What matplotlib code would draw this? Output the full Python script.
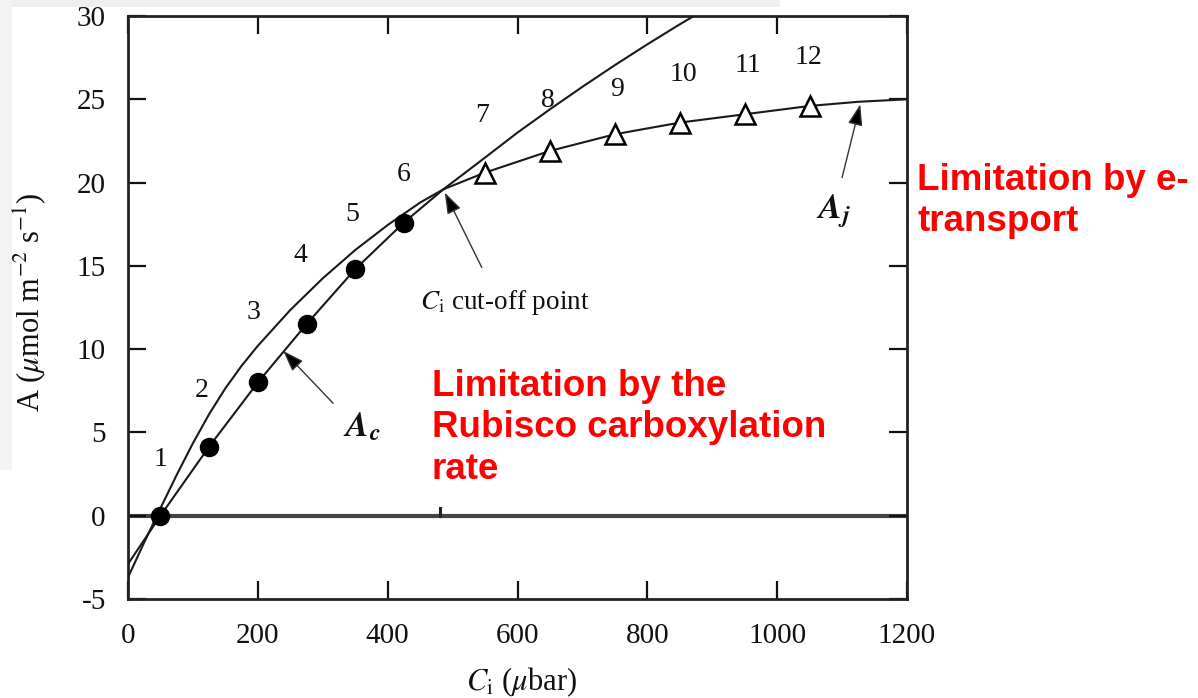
import matplotlib
matplotlib.use("Agg")
import matplotlib.pyplot as plt
from matplotlib.patches import Rectangle

plt.rcParams["font.family"] = ["Liberation Serif", "DejaVu Serif"]
plt.rcParams["mathtext.fontset"] = "stix"
plt.rcParams["axes.unicode_minus"] = False

# Measured points (Ci in µbar, A in µmol m-2 s-1)
ci_dots = [50, 125, 200, 275, 350, 425]
a_dots = [0.0, 4.15, 8.0, 11.5, 14.8, 17.6]
ci_tri = [550, 650, 750, 850, 950, 1050]
a_tri = [20.6, 21.9, 22.9, 23.6, 24.1, 24.6]

# Rubisco-limited curve (Ac)
ci_ac = [0, 50, 125, 200, 275, 350, 425, 486, 550, 600, 650, 700, 750, 800, 850, 900]
a_ac = [-2.9, 0.0, 4.15, 8.0, 11.5, 14.8, 17.6, 19.6, 21.5, 23.0, 24.4, 25.75, 27.05, 28.3, 29.5, 30.65]

# Electron-transport-limited curve (Aj)
ci_aj = [0, 25, 50, 75, 100, 125, 150, 175, 200, 250, 300, 350, 400, 450, 486,
         550, 650, 750, 850, 950, 1050, 1125, 1200]
a_aj = [-3.7, -1.6, 0.45, 2.45, 4.35, 6.1, 7.65, 9.0, 10.2, 12.35, 14.25, 15.95, 17.45, 18.8, 19.6,
        20.6, 21.9, 22.9, 23.6, 24.1, 24.6, 24.85, 25.0]

# Ci cut-off point (intersection of Ac and Aj)
ci_cut = 486
a_cut = 19.6

# Point numbers
point_labels = [str(i) for i in range(1, 13)]
label_ci = [50, 114, 194, 265, 345, 424, 545, 647, 753, 855, 955, 1048]
label_a = [3.4, 7.5, 12.2, 15.6, 18.1, 20.5, 24.0, 24.9, 25.6, 26.5, 27.0, 27.5]

x_ticks = [0, 200, 400, 600, 800, 1000, 1200]
y_ticks = [-5, 0, 5, 10, 15, 20, 25, 30]

W, H = 1198, 698
fig = plt.figure(figsize=(W / 100, H / 100), dpi=100)
fig.patch.set_facecolor("white")

# light slide background accents
fig.add_artist(Rectangle((0, 1 - 7 / H), 780 / W, 7 / H, transform=fig.transFigure,
                         facecolor="#efefef", edgecolor="none", zorder=-5))
fig.add_artist(Rectangle((0, 1 - 470 / H), 12 / W, 470 / H, transform=fig.transFigure,
                         facecolor="#f3f3f3", edgecolor="none", zorder=-5))

ax = fig.add_axes([128 / W, (H - 599) / H, (907 - 128) / W, (599 - 16) / H])
ax.set_xlim(0, 1200)
ax.set_ylim(-5, 30)
ax.set_xticks(x_ticks)
ax.set_yticks(y_ticks)
ax.tick_params(direction="in", length=13, width=1.6, top=True, right=True,
               labelsize=21, colors="#111111")
ax.tick_params(axis="x", pad=17)
ax.tick_params(axis="y", pad=16)
for s in ax.spines.values():
    s.set_linewidth(2.0)
    s.set_color("#222222")

# zero line
ax.axhline(0, color="#444444", lw=3.0, zorder=1)
# small mark at the cut-off Ci on the zero line
ax.plot([ci_cut - 5, ci_cut - 5], [0, 0.45], color="#222222", lw=2.2, zorder=2)

# curves
ax.plot(ci_ac, a_ac, color="#1a1a1a", lw=1.5, zorder=3)
ax.plot(ci_aj, a_aj, color="#1a1a1a", lw=1.5, zorder=3)

# points
ax.plot(ci_dots, a_dots, "o", color="black", ms=13, zorder=4)
ax.plot(ci_tri, a_tri, "^", mfc="white", mec="black", mew=1.8, ms=14, zorder=4)

# point numbers
for t, x, y in zip(point_labels, label_ci, label_a):
    ax.text(x, y, t, fontsize=20, ha="center", va="center", color="#111111")

arrow_kw = dict(arrowstyle="-|>,head_length=1.3,head_width=0.45", color="#333333",
                lw=1.0, shrinkA=0, shrinkB=0)

# cut-off annotation
ax.annotate("", xy=(ci_cut + 2, a_cut - 0.2), xytext=(545, 14.9),
            arrowprops=dict(**arrow_kw, fc="black"), zorder=5)
ax.text(581, 12.8, r"$C_\mathrm{i}$ cut-off point", fontsize=19.5, ha="center",
        va="center", color="#111111")

# Ac annotation
ax.annotate("", xy=(239, 9.9), xytext=(316, 6.75),
            arrowprops=dict(**arrow_kw, fc="black"), zorder=5)
ax.text(360, 5.3, r"$\mathbfit{A}_{\mathbfit{c}}$", fontsize=25, ha="center",
        va="center", color="#111111")

# Aj annotation
ax.annotate("", xy=(1128, 24.7), xytext=(1100, 20.3),
            arrowprops=dict(**arrow_kw, fc="black"), zorder=5)
ax.text(1087, 18.3, r"$\mathbfit{A}_{\mathbfit{j}}$", fontsize=25, ha="center",
        va="center", color="#111111")

# axis labels
fig.text(522 / W, 1 - 682 / H, r"$C_\mathrm{i}$ ($\mu$bar)", fontsize=22,
         ha="center", va="center", color="#111111")
fig.text(30 / W, 1 - 302 / H, r"A ($\mu$mol m$^{\mathrm{-2}}$ s$^{\mathrm{-1}}$)",
         fontsize=22, ha="center", va="center", rotation=90, color="#111111")

# limitation notes
red_kw = dict(family=["Liberation Sans", "DejaVu Sans"], fontweight="bold",
              fontsize=26.5, color="#ff0000", ha="left", va="top", linespacing=1.24)
fig.text(432 / W, 1 - 369 / H, "Limitation by the\nRubisco carboxylation\nrate", **red_kw)
fig.text(917 / W, 1 - 163 / H, "Limitation by e-\ntransport", **red_kw)

fig.savefig("out.png", dpi=100, facecolor="white")
